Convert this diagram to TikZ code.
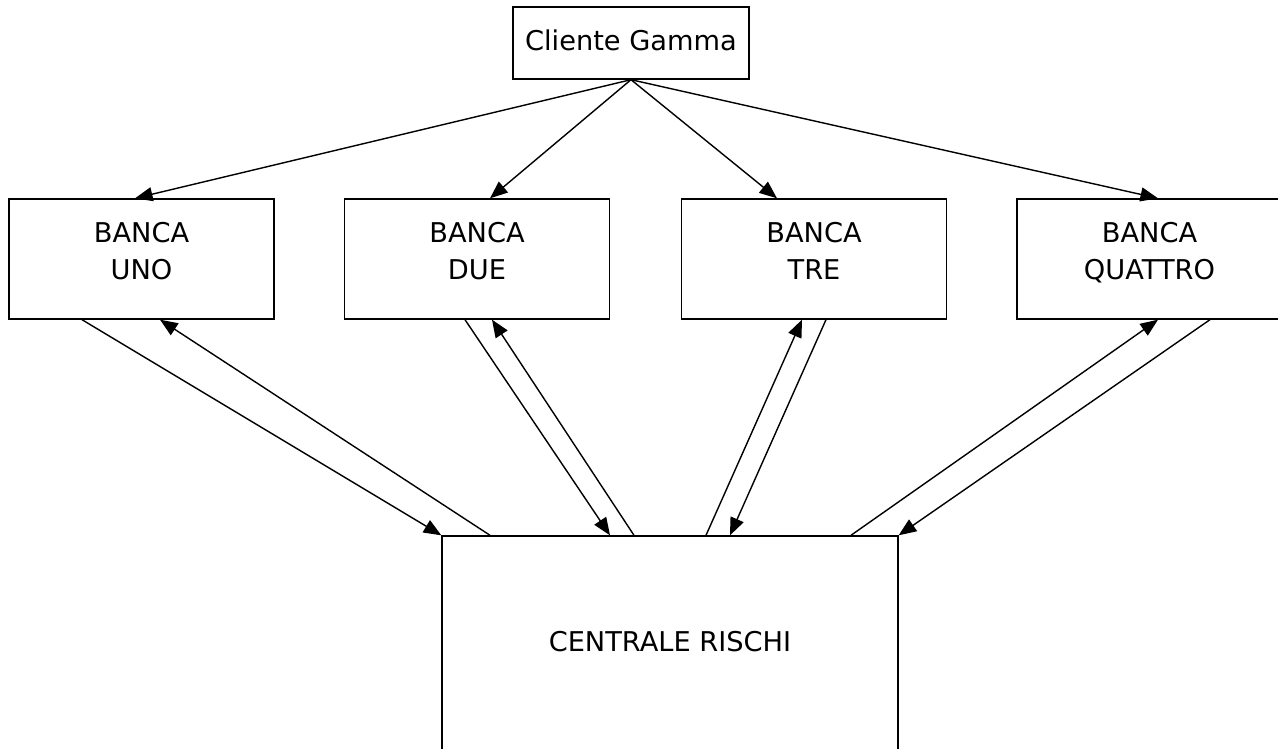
\documentclass[tikz,border=0pt]{standalone}
\usepackage{fontspec}
\setmainfont{DejaVu Sans}
\usetikzlibrary{arrows.meta}
\begin{document}
\begin{tikzpicture}[x=0.02cm,y=-0.02cm,
    every node/.style={font=\fontsize{15.5}{21.5}\selectfont},
    box/.style={draw,line width=0.8pt,align=center,inner sep=0pt},
    bank/.style={box,minimum width=5.3cm,minimum height=2.4cm,text height=26pt,text depth=2.2pt},
    >={Triangle[length=10pt,width=8pt]},line width=0.8pt]
      \useasboundingbox (0,0) rectangle (1278,749);
      \clip (0,0) rectangle (1278,749);
      \draw
        (631,43) node[box,minimum width=4.72cm,minimum height=1.44cm,text height=11pt,text depth=3pt] (cliente){Cliente Gamma}
        (141.5,259) node[bank] (uno){BANCA\\UNO}
        (477,259) node[bank] (due){BANCA\\DUE}
        (814,259) node[bank] (tre){BANCA\\TRE}
        (1149.5,259) node[bank] (quattro){BANCA\\QUATTRO}
        (670,648) node[box,minimum width=9.12cm,minimum height=4.48cm,text height=11pt,text depth=6.5pt] (centrale){CENTRALE RISCHI};
      \begin{scope}[->]
        \draw (cliente.south) to ([xshift=-0.13cm]uno.north);
        \draw (cliente.south) to ([xshift=0.26cm]due.north);
        \draw (cliente.south) to ([xshift=-0.74cm]tre.north);
        \draw (cliente.south) to ([xshift=0.17cm]quattro.north);
        \draw ([xshift=-1.19cm]uno.south) to (centrale.north west);
        \draw ([xshift=-3.6cm]centrale.north) to ([xshift=0.37cm]uno.south);
        \draw ([xshift=-0.24cm]due.south) to ([xshift=-1.2cm]centrale.north);
        \draw ([xshift=-0.72cm]centrale.north) to ([xshift=0.3cm]due.south);
        \draw ([xshift=0.72cm]centrale.north) to ([xshift=-0.24cm]tre.south);
        \draw ([xshift=0.24cm]tre.south) to ([xshift=1.2cm]centrale.north);
        \draw ([xshift=3.62cm]centrale.north) to ([xshift=0.17cm]quattro.south);
        \draw ([xshift=1.21cm]quattro.south) to (centrale.north east);
      \end{scope}
\end{tikzpicture}
\end{document}
